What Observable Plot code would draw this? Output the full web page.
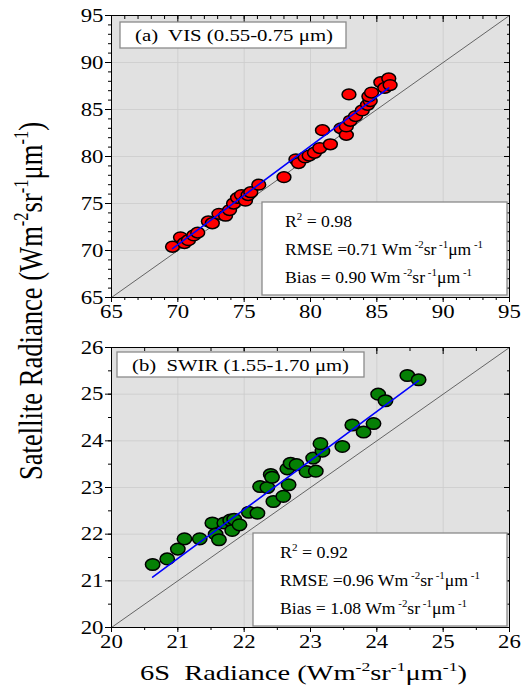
<!DOCTYPE html>
<html><head><meta charset="utf-8">
<script src="https://cdn.jsdelivr.net/npm/d3@7"></script>
<script src="https://cdn.jsdelivr.net/npm/@observablehq/plot@0.6"></script>
<style>
body{margin:0;background:#fff;}
#wrap{position:relative;width:522px;height:686px;overflow:hidden;}
#wrap > svg{display:block;}
#overlay{position:absolute;left:0;top:0;pointer-events:none;}
</style></head><body><div id="wrap"></div>
<script>
// ---- data (a) VIS panel ----
const visX = [69.6,70.2,70.5,70.8,71.2,71.5,72.3,72.6,73.1,73.6,73.9,74.2,74.5,74.8,75.1,75.3,75.5,76.1,78.0,78.9,79.1,79.6,79.9,80.3,80.7,80.9,81.5,82.3,82.7,82.7,82.9,83.0,83.4,83.9,84.3,84.5,84.4,84.6,85.3,85.6,85.9,86.0];
const visY = [70.4,71.4,70.8,71.1,71.6,71.9,73.1,72.9,73.9,73.7,74.3,75.0,75.6,75.9,75.3,75.9,76.2,77.0,77.8,79.7,79.3,79.9,80.1,80.4,80.9,82.8,81.3,83.0,82.3,83.2,86.6,83.8,84.3,84.9,85.5,85.9,86.4,86.8,87.9,87.3,88.3,87.6];
const visFitX = [69.6, 85.9];
const visFitY = [70.2, 87.3];
const visTicks = [65,70,75,80,85,90,95];
const visStats = ["0.98","0.71","0.90"];

// ---- data (b) SWIR panel ----
const swirX = [20.62,20.84,21.00,21.10,21.33,21.52,21.57,21.62,21.70,21.79,21.82,21.85,21.93,22.07,22.20,22.24,22.35,22.40,22.42,22.44,22.59,22.67,22.65,22.70,22.79,22.94,23.08,23.04,23.18,23.15,23.48,23.63,23.80,23.95,24.02,24.13,24.46,24.63];
const swirY = [21.35,21.47,21.68,21.90,21.90,22.24,22.00,21.88,22.24,22.30,22.08,22.32,22.20,22.47,22.45,23.02,23.00,23.28,23.22,22.70,22.81,23.06,23.40,23.52,23.49,23.34,23.35,23.63,23.78,23.94,23.88,24.34,24.19,24.37,25.00,24.86,25.40,25.31];
const swirFitX = [20.62, 24.63];
const swirFitY = [21.08, 25.29];
const swirTicks = [20,21,22,23,24,25,26];
const swirStats = ["0.92","0.96","1.08"];

const panelTitles = ["(a)  VIS (0.55-0.75 \u03bcm)", "(b)  SWIR (1.55-1.70 \u03bcm)"];
const xTitle = "6S  Radiance";
const yTitle = "Satellite Radiance";

const FONT = "'Liberation Serif','Times New Roman',serif";
const W = 522, ML = 111, MR = 13;

function ellipse(rx, ry){
  const k = 0.5523;
  return {draw(c){
    c.moveTo(rx,0);
    c.bezierCurveTo(rx,k*ry,k*rx,ry,0,ry);
    c.bezierCurveTo(-k*rx,ry,-rx,k*ry,-rx,0);
    c.bezierCurveTo(-rx,-k*ry,-k*rx,-ry,0,-ry);
    c.bezierCurveTo(k*rx,-ry,rx,-k*ry,rx,0);
    c.closePath();
  }};
}

function panel(o){
  const pts = o.xs.map((x,i)=>({x, y:o.ys[i]}));
  const fit = o.fitX.map((x,i)=>({x, y:o.fitY[i]}));
  const dom = [o.ticks[0], o.ticks[o.ticks.length-1]];
  const diag = dom.map(t=>({x:t,y:t}));
  const minor = d3.range(dom[0], dom[1]+1e-9, o.minorStep);
  const none = () => "";
  return Plot.plot({
    width: W, height: o.height, marginLeft: ML, marginRight: MR, marginTop: o.mt, marginBottom: o.mb,
    x:{domain:dom, label:null}, y:{domain:dom, label:null},
    style:{fontFamily:FONT, fontSize:"19px", background:"white", color:"black", overflow:"visible"},
    marks:[
      Plot.frame({fill:"#e1e1e1", stroke:null}),
      Plot.gridX(o.ticks.slice(1,-1), {stroke:"#cbcbcb", strokeOpacity:1, strokeWidth:0.8}),
      Plot.gridY(o.ticks.slice(1,-1), {stroke:"#cbcbcb", strokeOpacity:1, strokeWidth:0.8}),
      Plot.line(diag, {x:"x", y:"y", stroke:"#444", strokeWidth:0.8}),
      Plot.dot(pts, {x:"x", y:"y", symbol: ellipse(o.rx, o.ry), fill:o.fill, stroke:"black", strokeWidth:1.5}),
      Plot.line(fit, {x:"x", y:"y", stroke:"#0000ff", strokeWidth:1.6}),
      Plot.axisY(o.ticks, {anchor:"left", tickSize:6, tickPadding:2, label:null}),
      Plot.axisY(minor, {anchor:"left", tickSize:3, tickFormat:none, label:null}),
      Plot.axisY(o.ticks, {anchor:"right", tickSize:6, dx:-6, tickFormat:none, label:null}),
      Plot.axisY(minor, {anchor:"right", tickSize:3, dx:-3, tickFormat:none, label:null}),
      Plot.axisX(o.ticks, {anchor:"bottom", tickSize:5, tickPadding:2, label:null}),
      Plot.axisX(minor, {anchor:"bottom", tickSize:3, tickFormat:none, label:null}),
      Plot.axisX(o.ticks, {anchor:"top", tickSize:6, dy:6, tickFormat:none, label:null}),
      Plot.axisX(minor, {anchor:"top", tickSize:3, dy:3, tickFormat:none, label:null}),
      Plot.frame({stroke:"black", strokeWidth:1})
    ]
  });
}

function stretchTicks(svg, s){
  d3.select(svg).selectAll("g[aria-label$='tick label'] text").each(function(){
    const t = this.getAttribute("transform");
    if (t) this.setAttribute("transform", t + ` scale(${s},1)`);
    else {
      const x = +this.getAttribute("x")||0, y = +this.getAttribute("y")||0;
      this.removeAttribute("x"); this.removeAttribute("y");
      this.setAttribute("transform", `translate(${x},${y}) scale(${s},1)`);
    }
  });
}

const wrap = document.getElementById("wrap");
const plotA = panel({xs:visX, ys:visY, fitX:visFitX, fitY:visFitY, ticks:visTicks, minorStep:1, fill:"#ff0000", height:320, mt:15, mb:23, rx:6.9, ry:5.4});
const plotB = panel({xs:swirX, ys:swirY, fitX:swirFitX, fitY:swirFitY, ticks:swirTicks, minorStep:0.5, fill:"#058005", height:366, mt:27, mb:59, rx:7.2, ry:5.8});
wrap.appendChild(plotA); wrap.appendChild(plotB);
stretchTicks(plotA, 1.2); stretchTicks(plotB, 1.2);

// ---- overlay text / boxes ----
const ov = d3.select(wrap).append("svg").attr("id","overlay").attr("width",W).attr("height",686)
  .style("font-family", FONT);

function rich(g, x, y, parts, size, len, extra){
  const t = g.append("text").attr("x",x).attr("y",y).attr("font-size",size)
    .style("white-space","pre").attr("fill","black");
  if (len) t.attr("textLength",len).attr("lengthAdjust","spacingAndGlyphs");
  const sh = size*0.42;
  let up = false;
  parts.forEach(p=>{
    const ts = t.append("tspan").text(p.t);
    if (p.sup && !up){ ts.attr("dy", -sh).attr("font-size", size*0.62); up = true; }
    else if (p.sup){ ts.attr("font-size", size*0.62); }
    else if (!p.sup && up){ ts.attr("dy", sh); up = false; }
  });
  if (extra) extra(t);
  return t;
}
const unit = [{t:"Wm"},{t:"-2",sup:true},{t:"sr"},{t:"-1",sup:true},{t:"\u03bcm"},{t:"-1",sup:true}];
const unitGap = [{t:"Wm"},{t:" -2",sup:true},{t:"sr"},{t:" -1",sup:true},{t:"\u03bcm"},{t:" -1",sup:true}];

function box(x,y,w,h){
  ov.append("rect").attr("x",x).attr("y",y).attr("width",w).attr("height",h)
    .attr("fill","white").attr("stroke","#8a8a8a").attr("stroke-width",1.3);
}
function statsBlock(x0,stats){
  box(x0.bx, x0.by, x0.bw, x0.bh);
  rich(ov, x0.tx, x0.ly[0], [{t:"R"},{t:"2",sup:true},{t:" = "+stats[0]}], 16, x0.len[0]);
  rich(ov, x0.tx, x0.ly[1], [{t:"RMSE ="+stats[1]+" "}, ...unitGap], 16, x0.len[1]);
  rich(ov, x0.tx, x0.ly[2], [{t:"Bias = "+stats[2]+" "}, ...unitGap], 16, x0.len[2]);
}

// panel (a)
box(120, 22, 226, 26);
rich(ov, 135, 40.5, [{t:panelTitles[0]}], 16, 198);
statsBlock({bx:262, by:202, bw:245, bh:93, tx:285, ly:[227,255,283], len:[67,198,187]}, visStats);

// panel (b)
box(117, 352, 247, 25);
rich(ov, 132, 370.5, [{t:panelTitles[1]}], 16, 217);
statsBlock({bx:253, by:533, bw:254, bh:93, tx:280, ly:[558,586,614], len:[68,200,187]}, swirStats);

// axis titles
rich(ov, 140, 680, [{t:xTitle+" ("}, ...unit, {t:")"}], 21, 327);
rich(ov, 0, 0, [{t:yTitle+" ("}, ...unit, {t:")"}], 25, 358,
  t => t.attr("text-anchor","middle").attr("transform","translate(42,301) rotate(-90) scale(1,1.35)"));
</script></body></html>
